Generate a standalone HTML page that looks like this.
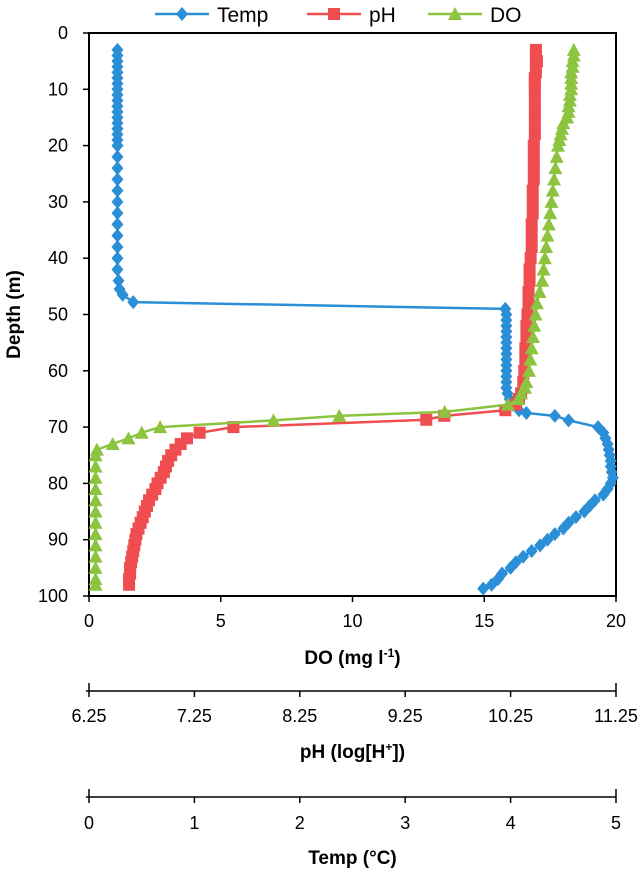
<!DOCTYPE html>
<html><head><meta charset="utf-8"><style>
html,body{margin:0;padding:0;background:#fff;}
svg{display:block;font-family:"Liberation Sans",sans-serif;}
</style></head><body>
<svg id="chart" width="641" height="872" viewBox="0 0 641 872" xmlns="http://www.w3.org/2000/svg"></svg>
<script>
// ---- data ----
const depthTicks=[0,10,20,30,40,50,60,70,80,90,100];
const doTicks=[0,5,10,15,20];
const phTicks=[6.25,7.25,8.25,9.25,10.25,11.25];
const tempTicks=[0,1,2,3,4,5];
const tempDepth=[3,4,5,6,7,8,9,10,11,12,13,14,15,16,17,18,19,20,22,24,26,28,30,32,34,36,38,40,42,44,45.5,46.5,47.8,49,50,51,52,53,54,55,56,57,58,59,60,61,62,63,64,65,66,67,67.5,68,68.8,70,71,72,73,74,75,76,77,78,79,80,81,82,83,84,85,86,87,88,89,90,91,92,93,94,95,96,97,98,98.7];
const tempVal=[0.27,0.27,0.27,0.27,0.27,0.27,0.27,0.27,0.27,0.27,0.27,0.27,0.27,0.27,0.27,0.27,0.27,0.27,0.27,0.27,0.27,0.27,0.27,0.27,0.27,0.27,0.27,0.27,0.27,0.28,0.29,0.32,0.42,3.95,3.96,3.96,3.96,3.96,3.96,3.96,3.96,3.96,3.96,3.96,3.96,3.96,3.96,3.96,3.97,3.99,4.02,4.08,4.15,4.42,4.55,4.83,4.88,4.9,4.92,4.93,4.94,4.95,4.95,4.96,4.97,4.95,4.92,4.88,4.8,4.75,4.7,4.62,4.55,4.5,4.42,4.35,4.28,4.2,4.12,4.05,4.0,3.92,3.88,3.82,3.74,3.68];
const phDepth=[3,4,5,6,7,8,9,10,12,14,16,18,20,22,24,26,28,30,32,34,36,38,40,42,44,46,48,50,52,54,56,58,60,62,64,65,66,67,68,68.7,70,71,72,73,74,75,76,77,78,79,80,81,82,83,84,85,86,87,88,89,90,91,92,93,94,95,96,97,98];
const phVal=[10.49,10.49,10.5,10.49,10.49,10.48,10.48,10.48,10.48,10.48,10.48,10.48,10.47,10.47,10.47,10.47,10.46,10.46,10.46,10.45,10.45,10.45,10.44,10.43,10.43,10.42,10.42,10.41,10.4,10.4,10.39,10.39,10.38,10.37,10.35,10.33,10.30,10.20,9.62,9.45,7.62,7.30,7.18,7.12,7.07,7.03,7.00,6.98,6.96,6.93,6.90,6.88,6.85,6.82,6.80,6.78,6.76,6.74,6.72,6.70,6.69,6.68,6.67,6.66,6.65,6.64,6.64,6.63,6.63];
const doDepth=[3,4,5,6,7,8,9,10,11,12,13,14,15,16,17,18,19,20,22,24,26,28,30,32,34,36,38,40,42,44,46,48,50,52,54,56,58,60,62,63,64,65,66,67.3,68,68.8,70,71,72,73,74,75,77,79,81,83,85,87,89,91,93,95,97,98];
const doVal=[18.4,18.4,18.35,18.35,18.3,18.3,18.3,18.3,18.25,18.25,18.2,18.2,18.15,18.0,17.95,17.9,17.85,17.8,17.75,17.7,17.65,17.6,17.55,17.5,17.45,17.4,17.35,17.3,17.25,17.2,17.1,17.0,16.95,16.9,16.85,16.8,16.75,16.7,16.6,16.55,16.4,16.3,15.9,13.5,9.5,7.0,2.7,2.0,1.5,0.9,0.3,0.25,0.25,0.25,0.25,0.25,0.25,0.25,0.25,0.25,0.25,0.25,0.25,0.25];
// ---- geometry ----
const X0=89,X1=616,Y0=33,Y1=596;
const yS=d=>Y0+(d-0)/(100-0)*(Y1-Y0);
const doS=v=>X0+v/20*(X1-X0);
const phS=v=>X0+(v-6.25)/5*(X1-X0);
const tS=v=>X0+v/5*(X1-X0);
const svg=document.getElementById('chart');
const NS='http://www.w3.org/2000/svg';
function mk(tag,attrs,parent){const e=document.createElementNS(NS,tag);for(const k in attrs)e.setAttribute(k,attrs[k]);(parent||svg).appendChild(e);return e;}
function txt(x,y,s,size,anchor,weight,parent){const t=mk('text',{x:x,y:y,'font-size':size,'text-anchor':anchor,'font-weight':weight||'normal',fill:'#000'},parent);t.textContent=s;return t;}
const frame=mk('rect',{x:X0,y:Y0,width:X1-X0,height:Y1-Y0,fill:'none',stroke:'#000','stroke-width':2});


const yAx=mk('g',{});


depthTicks.forEach(d=>{mk('line',{x1:X0-6,x2:X0,y1:yS(d),y2:yS(d),stroke:'#000','stroke-width':1.5},yAx);
const t=txt(X0-21,yS(d)+6,String(d),18,'end','normal',yAx);

});
const yt=txt(0,0,'Depth (m)',19,'middle','bold');
yt.setAttribute('transform','translate(20,'+((Y0+Y1)/2)+') rotate(-90)');


const dAx=mk('g',{});


doTicks.forEach(v=>{mk('line',{x1:doS(v),x2:doS(v),y1:Y1,y2:Y1+6,stroke:'#000','stroke-width':1.5},dAx);
const t=txt(doS(v),627,String(v),18,'middle','normal',dAx);

});
const dt=txt((X0+X1)/2,664,'',19,'middle','bold');
dt.innerHTML='DO (mg l<tspan font-size="12" dy="-7">-1</tspan><tspan dy="7">)</tspan>';


function secAxis(yLine,ticks,scale,labY,title,titleY,name){
 const g=mk('g',{});
 
 
 mk('line',{x1:X0-3,x2:X1,y1:yLine,y2:yLine,stroke:'#000','stroke-width':1.5},g);
 ticks.forEach((v,i)=>{const x=scale(v);const end=(i===0||i===ticks.length-1);
  mk('line',{x1:x,x2:x,y1:end?yLine-8:yLine,y2:yLine+6,stroke:'#000','stroke-width':1.5},g);
  const t=txt(x,labY,String(v),18,'middle','normal',g);
  
  });
 const tt=txt((X0+X1)/2,titleY,'',19,'middle','bold',g);
 tt.innerHTML=title;
 return tt;
}
const pt=secAxis(691,phTicks,phS,722,'pH (log[H<tspan font-size="12" dy="-7">+</tspan><tspan dy="7">])</tspan>',758,'ph-x-axis');


const tt=secAxis(797,tempTicks,tS,829,'Temp (°C)',864,'temp-x-axis');


function marker(kind,x,y,color,g){
 if(kind==='diamond')return mk('polygon',{points:`${x},${y-7} ${x+6},${y} ${x},${y+7} ${x-6},${y}`,fill:color},g);
 if(kind==='square')return mk('rect',{x:x-6,y:y-6,width:12,height:12,fill:color},g);
 return mk('polygon',{points:`${x},${y-7} ${x+7},${y+6} ${x-7},${y+6}`,fill:color},g);
}
function series(depths,vals,scale,color,kind,name){
 const g=mk('g',{});
 
 
 const pts=depths.map((d,i)=>scale(vals[i])+','+yS(d)).join(' ');
 mk('polyline',{points:pts,fill:'none',stroke:color,'stroke-width':2.5,'stroke-linejoin':'round'},g);
 depths.forEach((d,i)=>{const m=marker(kind,scale(vals[i]),yS(d),color,g);
  
  });
}
series(tempDepth,tempVal,tS,'#2a8fd6','diamond','temp-series');
series(phDepth,phVal,phS,'#ef4d4f','square','ph-series');
series(doDepth,doVal,doS,'#8cc43f','triangle','do-series');
const leg=mk('g',{});


[['Temp','#2a8fd6','diamond',155],['pH','#ef4d4f','square',307],['DO','#8cc43f','triangle',428]].forEach(([n,c,k,x])=>{
 const e=mk('g',{},leg);
 
 
 mk('line',{x1:x,x2:x+54,y1:14,y2:14,stroke:c,'stroke-width':2.5},e);
 marker(k,x+27,14,c,e);
 txt(x+62,22,n,21,'start','normal',e);
});
</script>
</body></html>
